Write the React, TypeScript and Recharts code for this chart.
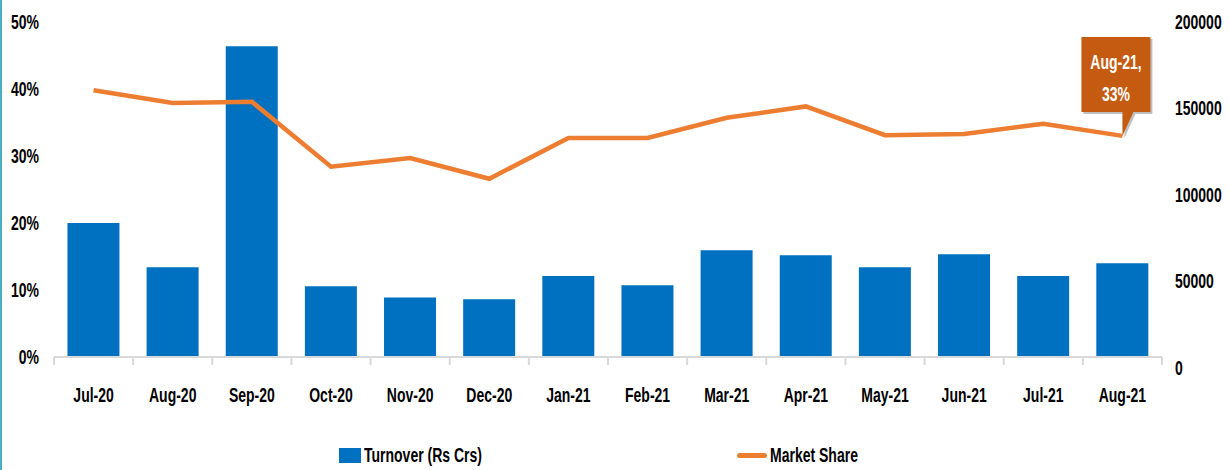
import React from "react";
import { ComposedChart, Bar, Line, XAxis, YAxis, Legend, LabelList } from "recharts";

// values
const months = ["Jul-20", "Aug-20", "Sep-20", "Oct-20", "Nov-20", "Dec-20", "Jan-21", "Feb-21", "Mar-21", "Apr-21", "May-21", "Jun-21", "Jul-21", "Aug-21"];
const turnover = [80000, 53600, 185500, 42300, 35500, 34500, 48300, 42900, 63800, 60800, 53600, 61400, 48300, 56000];
const marketShare = [39.8, 37.9, 38.1, 28.4, 29.7, 26.6, 32.7, 32.7, 35.7, 37.4, 33.1, 33.3, 34.8, 33.0];
const leftTicks = [0, 10, 20, 30, 40, 50];
const rightTicks = [0, 50000, 100000, 150000, 200000];

const data = months.map((m, i) => ({ month: m, turnover: turnover[i], share: marketShare[i] }));

const FONT = "'Liberation Sans', Arial, sans-serif";
const SX = 0.7; // squeeze text horizontally, the source font is a narrow one
const BLUE = "#0070C0";
const ORANGE = "#ED7D31";
const CALLOUT = "#C55A11";
const AXIS = "#D9D9D9";

const Txt = ({ x, y, anchor = "middle", fill = "#000", size = 20, children }: any) => (
  <text
    transform={`translate(${x},${y}) scale(${SX},1)`}
    textAnchor={anchor}
    dominantBaseline="central"
    fontFamily={FONT}
    fontWeight="bold"
    fontSize={size}
    fill={fill}
  >
    {children}
  </text>
);

const XTick = (props: any) => {
  const { x, y, payload, index, width } = props;
  const half = payload?.offset ?? width / months.length / 2;
  const isLast = index === months.length - 1;
  return (
    <g>
      <line x1={x - half} x2={x - half} y1={y} y2={y + 8} stroke={AXIS} strokeWidth={2} />
      {isLast && <line x1={x + half} x2={x + half} y1={y} y2={y + 8} stroke={AXIS} strokeWidth={2} />}
      <Txt x={x} y={y + 38}>{payload.value}</Txt>
    </g>
  );
};

const LeftTick = (props: any) => {
  const { x, y, payload } = props;
  return <Txt x={x} y={y} anchor="end">{`${payload.value}%`}</Txt>;
};

const RightTick = (props: any) => {
  const { x, y, payload } = props;
  const shift = 11 * (1 - payload.value / 200000);
  return <Txt x={x} y={y + shift} anchor="start">{payload.value}</Txt>;
};

const Callout = (props: any) => {
  const { x, y, index, value } = props;
  if (index !== months.length - 1) return null;
  const boxL = x - 41;
  const boxR = x + 28;
  const boxT = y - 99;
  const boxB = y - 24;
  const path = `M${boxL},${boxT} L${boxR},${boxT} L${boxR},${boxB} L${x + 11},${boxB} L${x},${y} L${x},${boxB} L${boxL},${boxB} Z`;
  const cx = (boxL + boxR) / 2;
  return (
    <g>
      <path d={path} fill="#BFBFBF" transform="translate(2,2)" />
      <path d={path} fill={CALLOUT} />
      <Txt x={cx} y={y - 74} fill="#fff" size={20}>{months[index] + ","}</Txt>
      <Txt x={cx} y={y - 42} fill="#fff" size={20}>{Math.round(value) + "%"}</Txt>
    </g>
  );
};

const squeeze: React.CSSProperties = { display: "inline-block", transform: `scaleX(${SX})`, transformOrigin: "left center", whiteSpace: "nowrap" };

const LegendContent = () => (
  <div style={{ position: "relative", height: 30, fontFamily: FONT, fontSize: 20, fontWeight: "bold", color: "#000" }}>
    <div style={{ position: "absolute", left: 337, top: 0, height: 30, display: "flex", alignItems: "center" }}>
      <span style={{ display: "inline-block", width: 22, height: 15, background: BLUE, marginRight: 3 }} />
      <span style={squeeze}>Turnover (Rs Crs)</span>
    </div>
    <div style={{ position: "absolute", left: 735, top: 0, height: 30, display: "flex", alignItems: "center" }}>
      <span style={{ display: "inline-block", width: 30, height: 5, borderRadius: 3, background: ORANGE, marginRight: 3 }} />
      <span style={squeeze}>Market Share</span>
    </div>
  </div>
);

export default function App() {
  return (
    <div style={{ position: "absolute", left: 0, top: 0, width: 1229, height: 470, background: "#fff", borderLeft: "2px solid #4BACC6", boxSizing: "border-box" }}>
      <ComposedChart width={1227} height={470} data={data} margin={{ top: 22, right: 0, bottom: 0, left: 0 }} barCategoryGap="17%">
        <XAxis
          dataKey="month"
          height={83}
          axisLine={{ stroke: AXIS, strokeWidth: 2 }}
          tickLine={false}
          tickSize={0}
          tickMargin={0}
          interval={0}
          tick={<XTick />}
        />
        <YAxis
          yAxisId="left"
          width={52}
          domain={[0, 50]}
          ticks={leftTicks}
          axisLine={false}
          tickLine={false}
          tickSize={0}
          tickMargin={15}
          tick={<LeftTick />}
        />
        <YAxis
          yAxisId="right"
          orientation="right"
          width={67}
          domain={[0, 200000]}
          ticks={rightTicks}
          axisLine={false}
          tickLine={false}
          tickSize={0}
          tickMargin={13}
          tick={<RightTick />}
        />
        <Legend verticalAlign="bottom" height={30} wrapperStyle={{ left: 0, width: 1227 }} content={<LegendContent />} />
        <Bar yAxisId="right" dataKey="turnover" name="Turnover (Rs Crs)" fill={BLUE} isAnimationActive={false} />
        <Line yAxisId="left" dataKey="share" name="Market Share" stroke={ORANGE} strokeWidth={4.5} dot={false} activeDot={false} isAnimationActive={false}>
          <LabelList dataKey="share" content={<Callout />} />
        </Line>
      </ComposedChart>
    </div>
  );
}
